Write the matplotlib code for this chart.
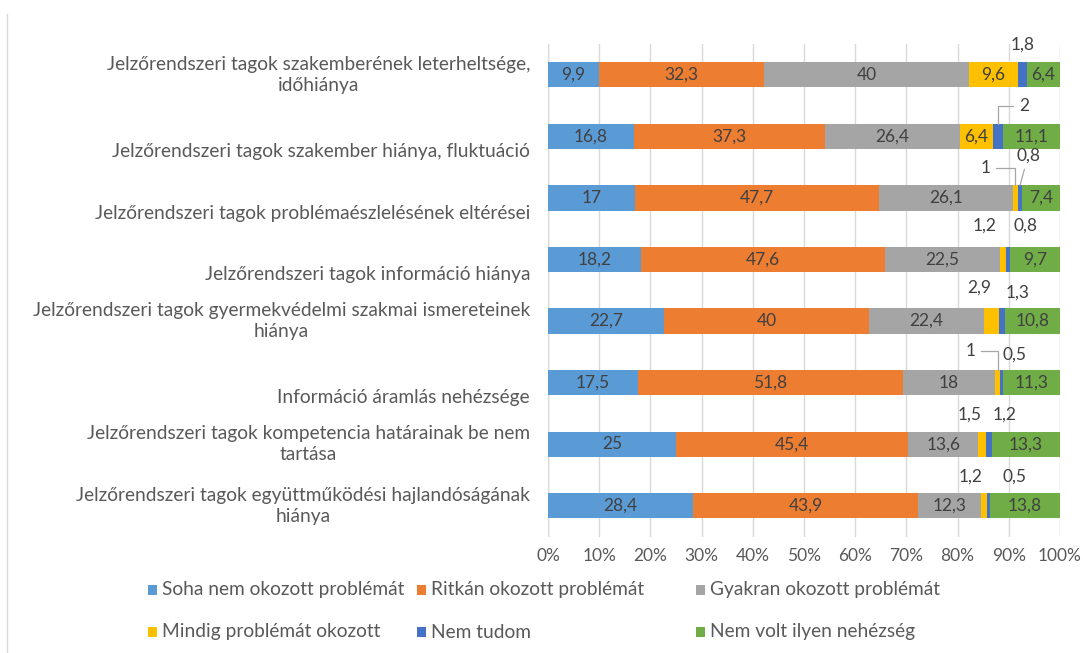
import matplotlib
matplotlib.use("Agg")
import matplotlib.pyplot as plt
from matplotlib.lines import Line2D
from matplotlib.patches import Rectangle
import numpy as np

plt.rcParams["font.family"] = ["Lato", "DejaVu Sans"]

categories = [
    "Jelzőrendszeri tagok szakemberének leterheltsége,\nidőhiánya",
    "Jelzőrendszeri tagok szakember hiánya, fluktuáció",
    "Jelzőrendszeri tagok problémaészlelésének eltérései",
    "Jelzőrendszeri tagok információ hiánya",
    "Jelzőrendszeri tagok gyermekvédelmi szakmai ismereteinek\nhiánya",
    "Információ áramlás nehézsége",
    "Jelzőrendszeri tagok kompetencia határainak be nem\ntartása",
    "Jelzőrendszeri tagok együttműködési hajlandóságának\nhiánya",
]
series_names = [
    "Soha nem okozott problémát",
    "Ritkán okozott problémát",
    "Gyakran okozott problémát",
    "Mindig problémát okozott",
    "Nem tudom",
    "Nem volt ilyen nehézség",
]
soha    = [9.9, 16.8, 17.0, 18.2, 22.7, 17.5, 25.0, 28.4]
ritkan  = [32.3, 37.3, 47.7, 47.6, 40.0, 51.8, 45.4, 43.9]
gyakran = [40.0, 26.4, 26.1, 22.5, 22.4, 18.0, 13.6, 12.3]
mindig  = [9.6, 6.4, 1.0, 1.2, 2.9, 1.0, 1.5, 1.2]
nem_tud = [1.8, 2.0, 0.8, 0.8, 1.3, 0.5, 1.2, 0.5]
nem_volt = [6.4, 11.1, 7.4, 9.7, 10.8, 11.3, 13.3, 13.8]

colors = ["#5B9BD5", "#ED7D31", "#A5A5A5", "#FFC000", "#4472C4", "#70AD47"]
TXT = "#404040"
AX_TXT = "#595959"

data = np.array([soha, ritkan, gyakran, mindig, nem_tud, nem_volt])

# offsets (px) for labels of the thin segments: (series, row) -> (dx, dy, leader)
small_offsets = {
    (4, 0): (0, 30, None),
    (4, 1): (26, 30, "elbow"),
    (3, 2): (-30, 30, "elbow"),
    (4, 2): (8, 42, "straight"),
    (3, 3): (-19, 34, None),
    (4, 3): (17, 34, None),
    (3, 4): (-12, 33, None),
    (4, 4): (16, 28, None),
    (3, 5): (-27, 32, "elbow"),
    (4, 5): (13, 28, None),
    (3, 6): (-12, 30, None),
    (4, 6): (16, 30, None),
    (3, 7): (-14, 29, None),
    (4, 7): (26, 29, None),
}

fig = plt.figure(figsize=(10.84, 6.53), dpi=100)
ax = fig.add_axes([548 / 1084, 1 - 536.5 / 653, 512 / 1084, (536.5 - 44) / 653])

y = np.arange(len(categories))
left = np.zeros(len(categories))
for s, (name, vals) in enumerate(zip(series_names, data)):
    ax.barh(y, vals, left=left, height=0.41, color=colors[s], label=name, zorder=2)
    for i, v in enumerate(vals):
        cx = left[i] + v / 2
        txt = f"{v:g}".replace(".", ",")
        if (s, i) in small_offsets:
            dx, dy, leader = small_offsets[(s, i)]
            ap = None
            if leader == "elbow":
                ap = dict(arrowstyle="-", color="#A6A6A6", lw=0.9,
                          connectionstyle="angle,angleA=0,angleB=90,rad=0",
                          shrinkA=2, shrinkB=0)
            elif leader == "straight":
                ap = dict(arrowstyle="-", color="#A6A6A6", lw=0.9,
                          shrinkA=2, shrinkB=0)
            ax.annotate(txt, xy=(cx, i - 0.205 if leader else i),
                        xytext=(dx, dy if not leader else dy - 12.6),
                        textcoords="offset pixels", ha="center", va="center",
                        fontsize=12.5, color=TXT, arrowprops=ap, zorder=4)
        else:
            ax.text(cx, i, txt, ha="center", va="center", fontsize=12.5,
                    color=TXT, zorder=3)
    left += vals

ax.set_xlim(0, 100)
ax.set_ylim(len(categories) - 0.5, -0.5)
ax.set_xticks(np.arange(0, 101, 10))
ax.set_xticklabels([f"{t}%" for t in range(0, 101, 10)], fontsize=12.5, color=AX_TXT)
ax.tick_params(axis="x", length=0, pad=8)
ax.set_yticks([])
ax.grid(axis="x", color="#D9D9D9", linewidth=1, zorder=0)
for sp in ax.spines.values():
    sp.set_visible(False)
ax.axvline(0, color="#D9D9D9", linewidth=1, zorder=1)

# category labels (single-line ones sit a bit lower, as in the original)
for i, cat in enumerate(categories):
    off = 0.0 if "\n" in cat else 0.25
    ax.text(-0.035, i + off, cat, transform=ax.get_yaxis_transform(),
            ha="right", va="center", multialignment="center",
            fontsize=13.8, color=AX_TXT, linespacing=1.3)

# legend, two rows of three, fixed columns like the original
leg_x = [152, 421, 700]
leg_y = [590, 632]
for k, name in enumerate(series_names):
    px = leg_x[k % 3]
    py = leg_y[k // 3]
    fig.add_artist(Rectangle(((px - 4) / 1084, 1 - (py + 5) / 653), 9 / 1084, 10 / 653,
                             transform=fig.transFigure, facecolor=colors[k],
                             edgecolor="none"))
    fig.text((px + 10) / 1084, 1 - py / 653, name, ha="left", va="center",
             fontsize=13.8, color=AX_TXT)

fig.add_artist(Line2D([7 / 1084, 7 / 1084], [0, 1 - 14 / 653],
                      transform=fig.transFigure, color="#D9D9D9", lw=1))

fig.savefig("out.png", dpi=100)
